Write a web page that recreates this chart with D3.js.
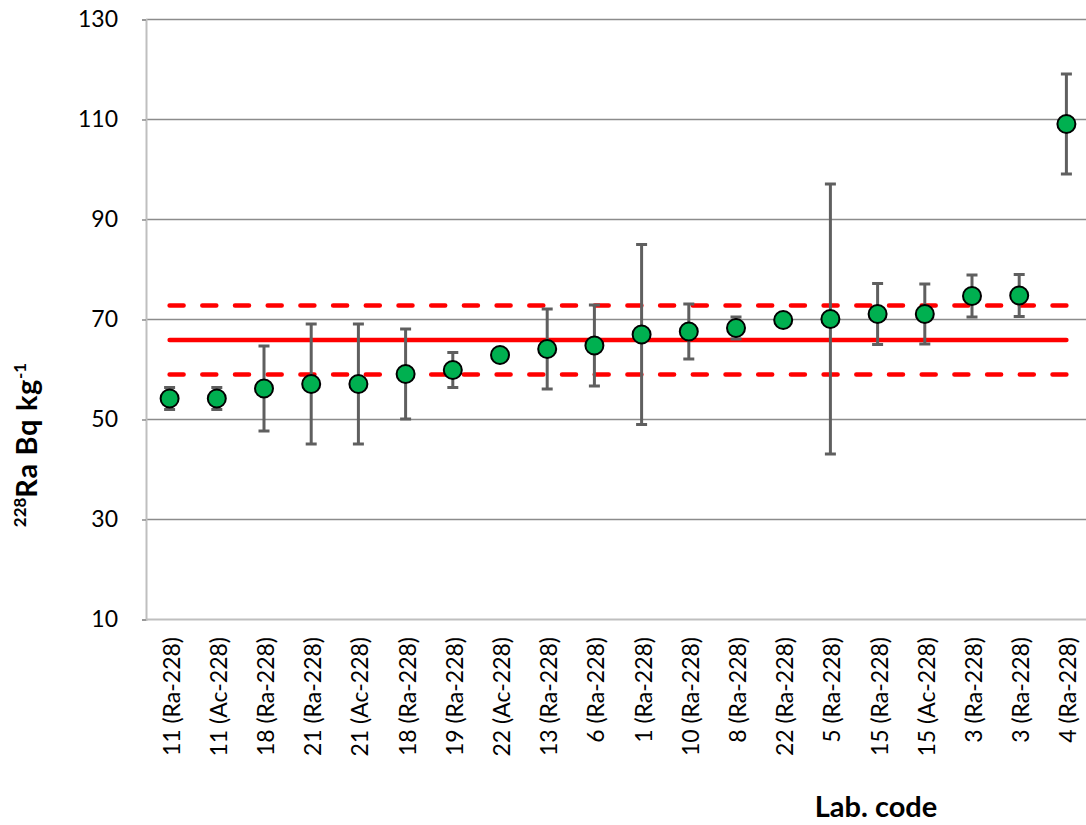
<!DOCTYPE html>
<html>
<head>
<meta charset="utf-8">
<script src="https://cdn.jsdelivr.net/npm/d3@7"></script>
<style>
  html, body { margin: 0; padding: 0; background: #fff; }
  svg { display: block; font-family: Lato, "Open Sans", sans-serif; }
</style>
</head>
<body>
<svg id="chart" width="1086" height="825"></svg>
<script>
// Laboratory codes (with the nuclide used for the determination)
const labCodes = [
  "11 (Ra-228)", "11 (Ac-228)", "18 (Ra-228)", "21 (Ra-228)", "21 (Ac-228)",
  "18 (Ra-228)", "19 (Ra-228)", "22 (Ac-228)", "13 (Ra-228)", "6 (Ra-228)",
  "1 (Ra-228)", "10 (Ra-228)", "8 (Ra-228)", "22 (Ra-228)", "5 (Ra-228)",
  "15 (Ra-228)", "15 (Ac-228)", "3 (Ra-228)", "3 (Ra-228)", "4 (Ra-228)"
];
// Reported 228Ra activity concentrations, Bq/kg
const activity = [
  54.2, 54.2, 56.2, 57.1, 57.1, 59.1, 59.9, 62.9, 64.1, 64.8,
  67.0, 67.6, 68.3, 69.9, 70.1, 71.1, 71.1, 74.7, 74.8, 109.1
];
// Reported uncertainties, Bq/kg
const uncertainty = [
  2.2, 2.2, 8.5, 12, 12, 9, 3.5, 0.5, 8, 8.1,
  18, 5.5, 2.2, 0.8, 27, 6.1, 6, 4.2, 4.2, 10
];
// Reference value and its acceptance band
const referenceValue = 65.9;
const referenceBand = [59.0, 72.8];
// Y axis ticks
const yTicks = [10, 30, 50, 70, 90, 110, 130];

const svg = d3.select("#chart");
const plot = { left: 146, right: 1090, top: 19.5, bottom: 619.5 };

const x = d3.scaleBand().domain(d3.range(labCodes.length))
  .range([plot.left, plot.right]).padding(0);
const cx = i => x(i) + x.bandwidth() / 2;
const y = d3.scaleLinear().domain([10, 130]).range([plot.bottom, plot.top]);

// horizontal gridlines
svg.append("g").selectAll("line")
  .data(yTicks.filter(t => t > 10))
  .join("line")
  .attr("x1", plot.left).attr("x2", 1086)
  .attr("y1", d => y(d)).attr("y2", d => y(d))
  .attr("stroke", "#8c8c8c").attr("stroke-width", 1.5);

// axes
const yAxis = d3.axisLeft(y).tickValues(yTicks).tickSize(4).tickPadding(24);
const gy = svg.append("g").attr("transform", `translate(${plot.left},0)`).call(yAxis);
gy.select(".domain").attr("stroke", "#bfbfbf").attr("stroke-width", 2);
gy.selectAll(".tick line").attr("stroke", "#8c8c8c").attr("stroke-width", 1.5);
gy.selectAll(".tick text")
  .attr("font-family", "Lato, sans-serif").attr("font-size", 23).attr("fill", "#000");

svg.append("line")
  .attr("x1", plot.left).attr("x2", 1086)
  .attr("y1", plot.bottom).attr("y2", plot.bottom)
  .attr("stroke", "#bfbfbf").attr("stroke-width", 2);

// category labels, rotated
svg.append("g").selectAll("text")
  .data(labCodes)
  .join("text")
  .attr("transform", (d, i) => `translate(${cx(i) + 2},637) rotate(-90)`)
  .attr("text-anchor", "end")
  .attr("dy", "0.35em")
  .attr("font-size", 23)
  .attr("fill", "#000")
  .text(d => d);

// reference value and band
const x0 = cx(0), x1 = cx(labCodes.length - 1);
svg.append("line")
  .attr("x1", x0).attr("x2", x1)
  .attr("y1", y(referenceValue)).attr("y2", y(referenceValue))
  .attr("stroke", "#ff0000").attr("stroke-width", 4.5).attr("stroke-linecap", "round");
svg.append("g").selectAll("line")
  .data(referenceBand)
  .join("line")
  .attr("x1", x0).attr("x2", x1)
  .attr("y1", d => y(d)).attr("y2", d => y(d))
  .attr("stroke", "#ff0000").attr("stroke-width", 4.5)
  .attr("stroke-linecap", "round").attr("stroke-dasharray", "14 18.7");

// error bars
const eb = svg.append("g").attr("stroke", "#5f5f5f").attr("stroke-width", 3);
activity.forEach((v, i) => {
  const lo = y(v - uncertainty[i]), hi = y(v + uncertainty[i]), c = cx(i);
  eb.append("line").attr("x1", c).attr("x2", c).attr("y1", lo).attr("y2", hi);
  eb.append("line").attr("x1", c - 5.5).attr("x2", c + 5.5).attr("y1", lo).attr("y2", lo);
  eb.append("line").attr("x1", c - 5.5).attr("x2", c + 5.5).attr("y1", hi).attr("y2", hi);
});

// reported values
svg.append("g").selectAll("circle")
  .data(activity)
  .join("circle")
  .attr("cx", (d, i) => cx(i))
  .attr("cy", d => y(d))
  .attr("r", 9)
  .attr("fill", "#00b050")
  .attr("stroke", "#000")
  .attr("stroke-width", 2);

// axis titles
const yTitle = svg.append("text")
  .attr("transform", "translate(37,445) rotate(-90)")
  .attr("text-anchor", "middle")
  .attr("font-weight", "bold")
  .attr("font-size", 29)
  .attr("fill", "#000");
yTitle.append("tspan").attr("font-size", 17).attr("dy", -11).text("228");
yTitle.append("tspan").attr("dy", 11)
  .attr("textLength", 118).text("Ra Bq kg");
yTitle.append("tspan").attr("font-size", 17).attr("dy", -11).text("-1");

svg.append("text")
  .attr("x", 876).attr("y", 817)
  .attr("text-anchor", "middle")
  .attr("font-weight", "bold")
  .attr("font-size", 29)
  .attr("fill", "#000")
  .text("Lab. code");
</script>
</body>
</html>
